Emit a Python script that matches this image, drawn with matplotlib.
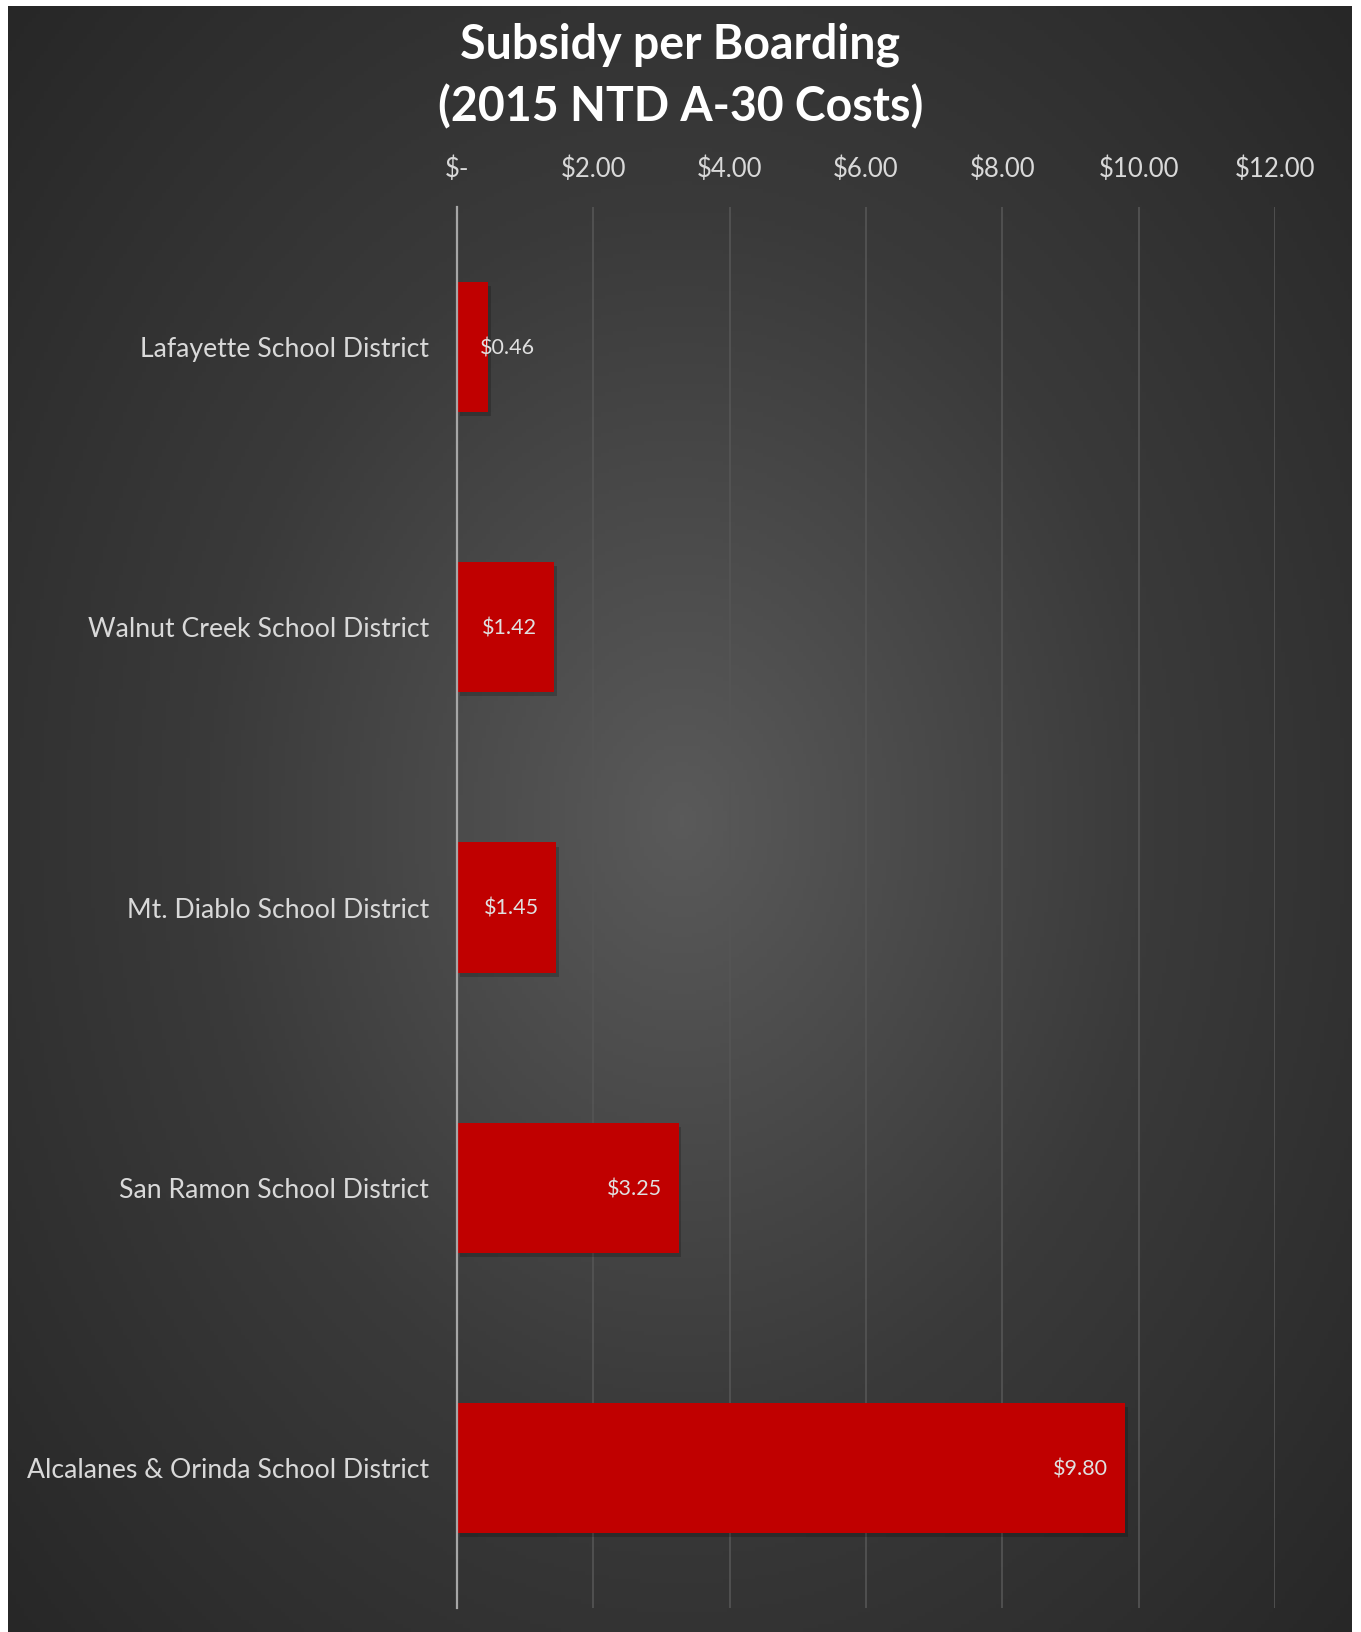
import numpy as np
import matplotlib
matplotlib.use("Agg")
from matplotlib import pyplot as plt
from matplotlib import patheffects as pe
from matplotlib.colors import LinearSegmentedColormap

plt.rcParams['font.family'] = ['Lato', 'DejaVu Sans']

districts = [
    "Lafayette School District",
    "Walnut Creek School District",
    "Mt. Diablo School District",
    "San Ramon School District",
    "Alcalanes & Orinda School District",
]
subsidy = [0.46, 1.42, 1.45, 3.25, 9.80]
x_ticks = [0, 2, 4, 6, 8, 10, 12]
x_tick_labels = ["$-", "$2.00", "$4.00", "$6.00", "$8.00", "$10.00", "$12.00"]
title = "Subsidy per Boarding\n(2015 NTD A-30 Costs)"

W, H = 1361, 1632
fig = plt.figure(figsize=(W / 100, H / 100), dpi=100, facecolor="white")

# dark panel with radial gradient
bg = fig.add_axes([8 / W, 0, (1352 - 8) / W, (H - 6) / H])
bg.set_axis_off()
yy, xx = np.mgrid[0:400, 0:340]
cx, cy = 170, 200
d = np.sqrt(((xx - cx) / 240.0) ** 2 + ((yy - cy) / 300.0) ** 2)
d = np.clip(d, 0, 1)
cmap = LinearSegmentedColormap.from_list("bg", ["#5a5a5a", "#3a3a3a", "#262626"])
bg.imshow(d, cmap=cmap, aspect="auto", extent=[0, 1, 0, 1], vmin=0, vmax=1)
bg.set_xlim(0, 1)
bg.set_ylim(0, 1)

ax = fig.add_axes([457 / W, (H - 1608) / H, 818 / W, 1401 / H])
ax.patch.set_alpha(0)
y = np.arange(len(districts))
bars = ax.barh(y, subsidy, height=0.464, color="#C00000", zorder=3)
for b in bars:
    b.set_path_effects([pe.SimplePatchShadow(offset=(2, -3), shadow_rgbFace="black", alpha=0.2),
                        pe.Normal()])

ax.set_xlim(0, 12)
ax.set_ylim(len(districts) - 0.5, -0.5)
ax.set_yticks(y)
ax.set_yticklabels(districts, fontsize=19.2, color="#d9d9d9")
ax.set_xticks(x_ticks)
ax.set_xticklabels(x_tick_labels, fontsize=18.5, color="#d9d9d9")
ax.xaxis.tick_top()
ax.tick_params(axis="both", length=0)
ax.tick_params(axis="x", pad=18)
ax.tick_params(axis="y", pad=20)
for s in ["top", "right", "bottom"]:
    ax.spines[s].set_visible(False)
ax.spines["left"].set_color("#a6a6a6")
ax.spines["left"].set_linewidth(1.6)
ax.spines["left"].set_zorder(4)
ax.grid(axis="x", color="#555555", linewidth=1.2, zorder=1)
ax.grid(axis="y", visible=False)

# data labels: inside end, pushed right if not fitting
labels = []
for yi, v in zip(y, subsidy):
    t = ax.annotate(f"${v:.2f}", xy=(v, yi), xytext=(-12, -1), textcoords="offset points",
                    ha="right", va="center", fontsize=15.5, color="#e0e0e0", zorder=5)
    labels.append((t, yi))
fig.canvas.draw()
r = fig.canvas.get_renderer()
axis_px = ax.transData.transform((0, 0))[0]
for t, yi in labels:
    if t.get_window_extent(r).x0 < axis_px + 22:
        t.xy = (0, yi)
        t.set_position((16.5, -1))
        t.set_ha("left")

fig.text(0.5, (H - 76) / H, title, ha="center", va="center", fontsize=33.5,
         fontweight="bold", color="white", linespacing=1.45)

fig.savefig("out.png", dpi=100, facecolor="white")
